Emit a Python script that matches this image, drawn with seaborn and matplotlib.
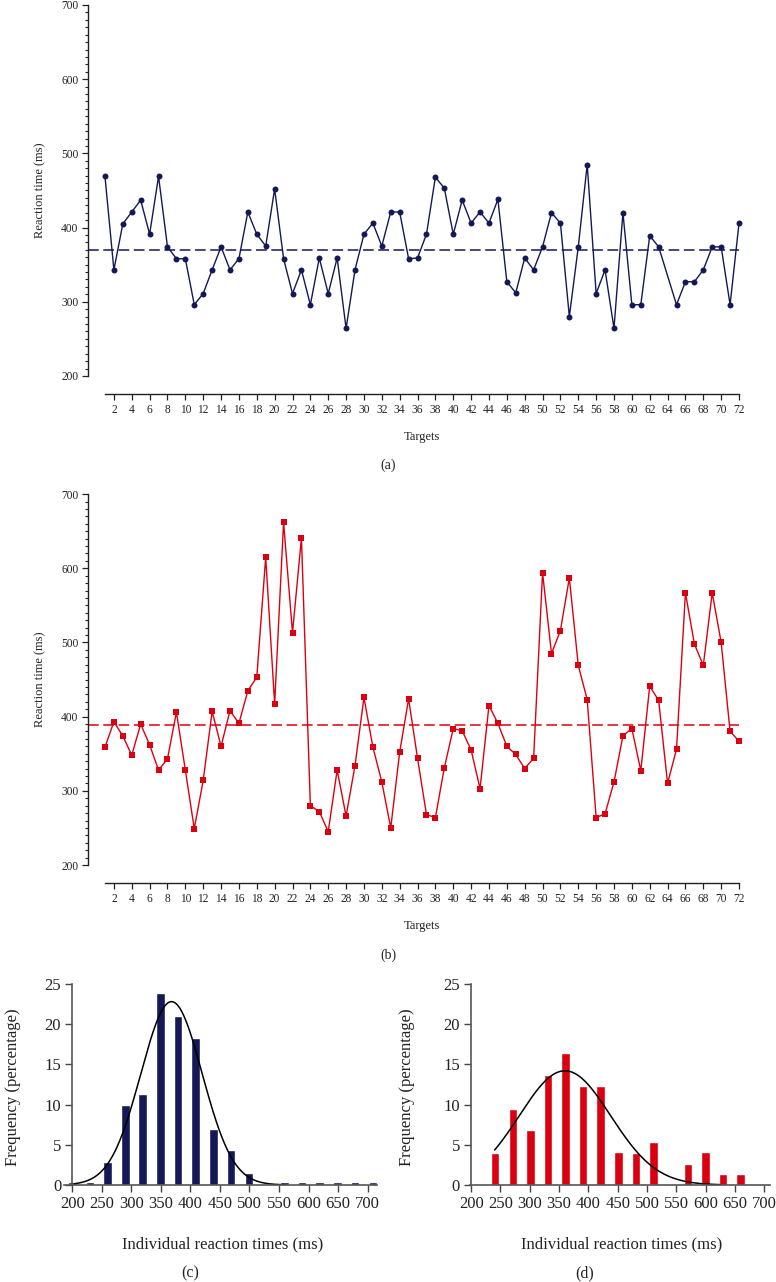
import numpy as np
import pandas as pd
import seaborn as sns
import matplotlib.pyplot as plt
from matplotlib.ticker import FixedLocator

# reaction time per target, panel (a) -- target 64 has no value
targets = list(range(1, 73))
rt_a = [469, 343, 405, 421, 437, 391, 469, 374, 358, 358,
        296, 311, 343, 374, 343, 358, 421, 391, 375, 452,
        358, 311, 343, 296, 359, 311, 359, 264, 343, 391,
        406, 375, 421, 421, 358, 359, 391, 468, 453, 391,
        437, 406, 421, 406, 438, 327, 312, 359, 343, 374,
        420, 406, 280, 374, 485, 311, 343, 264, 420, 296,
        296, 389, 374, np.nan, 296, 327, 327, 343, 374, 374,
        296, 406]
mean_a = 370

# panel (b)
rt_b = [359, 393, 374, 348, 390, 362, 328, 343, 406, 328,
        249, 314, 407, 360, 408, 391, 435, 453, 615, 417,
        662, 513, 641, 280, 272, 245, 328, 266, 334, 426,
        359, 312, 250, 352, 424, 344, 268, 264, 331, 384,
        381, 355, 303, 415, 391, 360, 349, 330, 344, 594,
        485, 516, 587, 469, 423, 264, 269, 312, 374, 384,
        327, 441, 422, 310, 356, 567, 498, 469, 567, 500,
        380, 367]
mean_b = 389

# histograms (c) and (d)
bins_c = [200, 230, 260, 290, 319, 349, 379, 409, 439, 469, 499, 529,
          559, 589, 619, 649, 679, 709]
pct_c = [0.35, 0.35, 2.9, 9.9, 11.3, 23.9, 21.0, 18.3, 7.0, 4.3, 1.5, 0.1,
         0.35, 0.35, 0.35, 0.35, 0.35, 0.35]
bins_d = [241, 271, 301, 331, 361, 391, 421, 451, 481, 511, 541, 570,
          600, 630, 660, 689]
pct_d = [4.0, 9.5, 6.8, 13.7, 16.4, 12.3, 12.3, 4.1, 4.0, 5.4, 0.1, 2.6,
         4.1, 1.3, 1.3, 0.1]

# normal fits: mean, sd, peak height, drawn range
fit_c = dict(mu=368, sd=52, peak=22.8, lo=203, hi=560)
fit_d = dict(mu=360, sd=78, peak=14.2, lo=240, hi=625)

navy = '#141856'
red = '#db0010'
ink = '#222222'

sns.set_theme(style='ticks')
plt.rcParams['font.family'] = ['Liberation Serif', 'DejaVu Serif']

fig = plt.figure(figsize=(7.76, 12.82), dpi=100)
ax_a = fig.add_axes([0.1134, 0.6927, 0.8424, 0.3034])
ax_b = fig.add_axes([0.1134, 0.3112, 0.8424, 0.3034])
ax_c = fig.add_axes([0.0825, 0.0757, 0.4034, 0.1568])
ax_d = fig.add_axes([0.6057, 0.0757, 0.3866, 0.1568])


def line_panel(ax, values, mean, color, marker):
    df = pd.DataFrame({'target': targets, 'rt': values}).dropna()
    sns.lineplot(data=df, x='target', y='rt', ax=ax, color=color, lw=1.0,
                 marker=marker, markersize=4.3, markeredgecolor=color,
                 markerfacecolor=color, markeredgewidth=0)
    ax.set_xlim(-0.9, 72.3)
    ax.set_ylim(175.7, 700)
    ax.hlines(mean, ax.get_xlim()[0], 72, color=color, lw=1.1,
              linestyles=(0, (7, 3)))
    sns.despine(ax=ax)
    ax.spines['left'].set_bounds(200, 700)
    ax.spines['bottom'].set_bounds(1, 72)
    for s in ['left', 'bottom']:
        ax.spines[s].set_linewidth(1.0)
        ax.spines[s].set_color(ink)
    ax.set_xticks(range(2, 73, 2))
    ax.set_yticks(range(200, 701, 100))
    ax.yaxis.set_minor_locator(FixedLocator(range(200, 701, 10)))
    ax.tick_params(axis='both', which='major', labelsize=8.3,
                   colors=ink, length=4, width=0.9, pad=3)
    ax.tick_params(axis='y', which='minor', length=2.5, width=0.8,
                   colors=ink)
    ax.set_ylabel('Reaction time (ms)', fontsize=9, color=ink)
    ax.set_xlabel('Targets', fontsize=9, color=ink)
    ax.yaxis.set_label_coords(-0.064, 0.524)
    ax.xaxis.set_label_coords(0.511, -0.095)


line_panel(ax_a, rt_a, mean_a, navy, 'o')
line_panel(ax_b, rt_b, mean_b, red, 's')


def hist_panel(ax, bins, pct, fit, color, xlim):
    df = pd.DataFrame({'bin': bins, 'pct': pct})
    sns.barplot(data=df, x='bin', y='pct', ax=ax, native_scale=True,
                width=0.5, color=color, saturation=1, errorbar=None)
    xs = np.linspace(fit['lo'], fit['hi'], 300)
    ys = fit['peak'] * np.exp(-0.5 * ((xs - fit['mu']) / fit['sd']) ** 2)
    sns.lineplot(x=xs, y=ys, ax=ax, color='black', lw=1.1)
    ax.set_xlim(*xlim)
    ax.set_ylim(0, 25)
    sns.despine(ax=ax)
    ax.spines['left'].set_position(('data', 200))
    for s in ['left', 'bottom']:
        ax.spines[s].set_linewidth(1.2)
        ax.spines[s].set_color('#555555')
    ax.set_xticks(range(200, 701, 50))
    ax.set_yticks(range(0, 26, 5))
    ax.tick_params(axis='both', labelsize=12, labelcolor=ink,
                   color='#444444', length=5, width=1.0, pad=3)
    ax.set_xlabel('Individual reaction times (ms)', fontsize=12, color=ink)
    ax.set_ylabel('Frequency (percentage)', fontsize=12, color=ink)


hist_panel(ax_c, bins_c, pct_c, fit_c, navy, (186, 716))
hist_panel(ax_d, bins_d, pct_d, fit_d, red, (198, 710))
ax_c.yaxis.set_label_coords(-0.137, 0.488)
ax_c.xaxis.set_label_coords(0.508, -0.254)
ax_d.yaxis.set_label_coords(-0.183, 0.488)
ax_d.xaxis.set_label_coords(0.507, -0.254)

fig.text(0.5, 0.6373, '(a)', ha='center', va='center', fontsize=10,
         color=ink)
fig.text(0.5, 0.2551, '(b)', ha='center', va='center', fontsize=10,
         color=ink)
fig.text(0.2448, 0.0070, '(c)', ha='center', va='center', fontsize=11.5,
         color=ink)
fig.text(0.754, 0.0070, '(d)', ha='center', va='center', fontsize=11.5,
         color=ink)

fig.savefig('out.png', dpi=100)
